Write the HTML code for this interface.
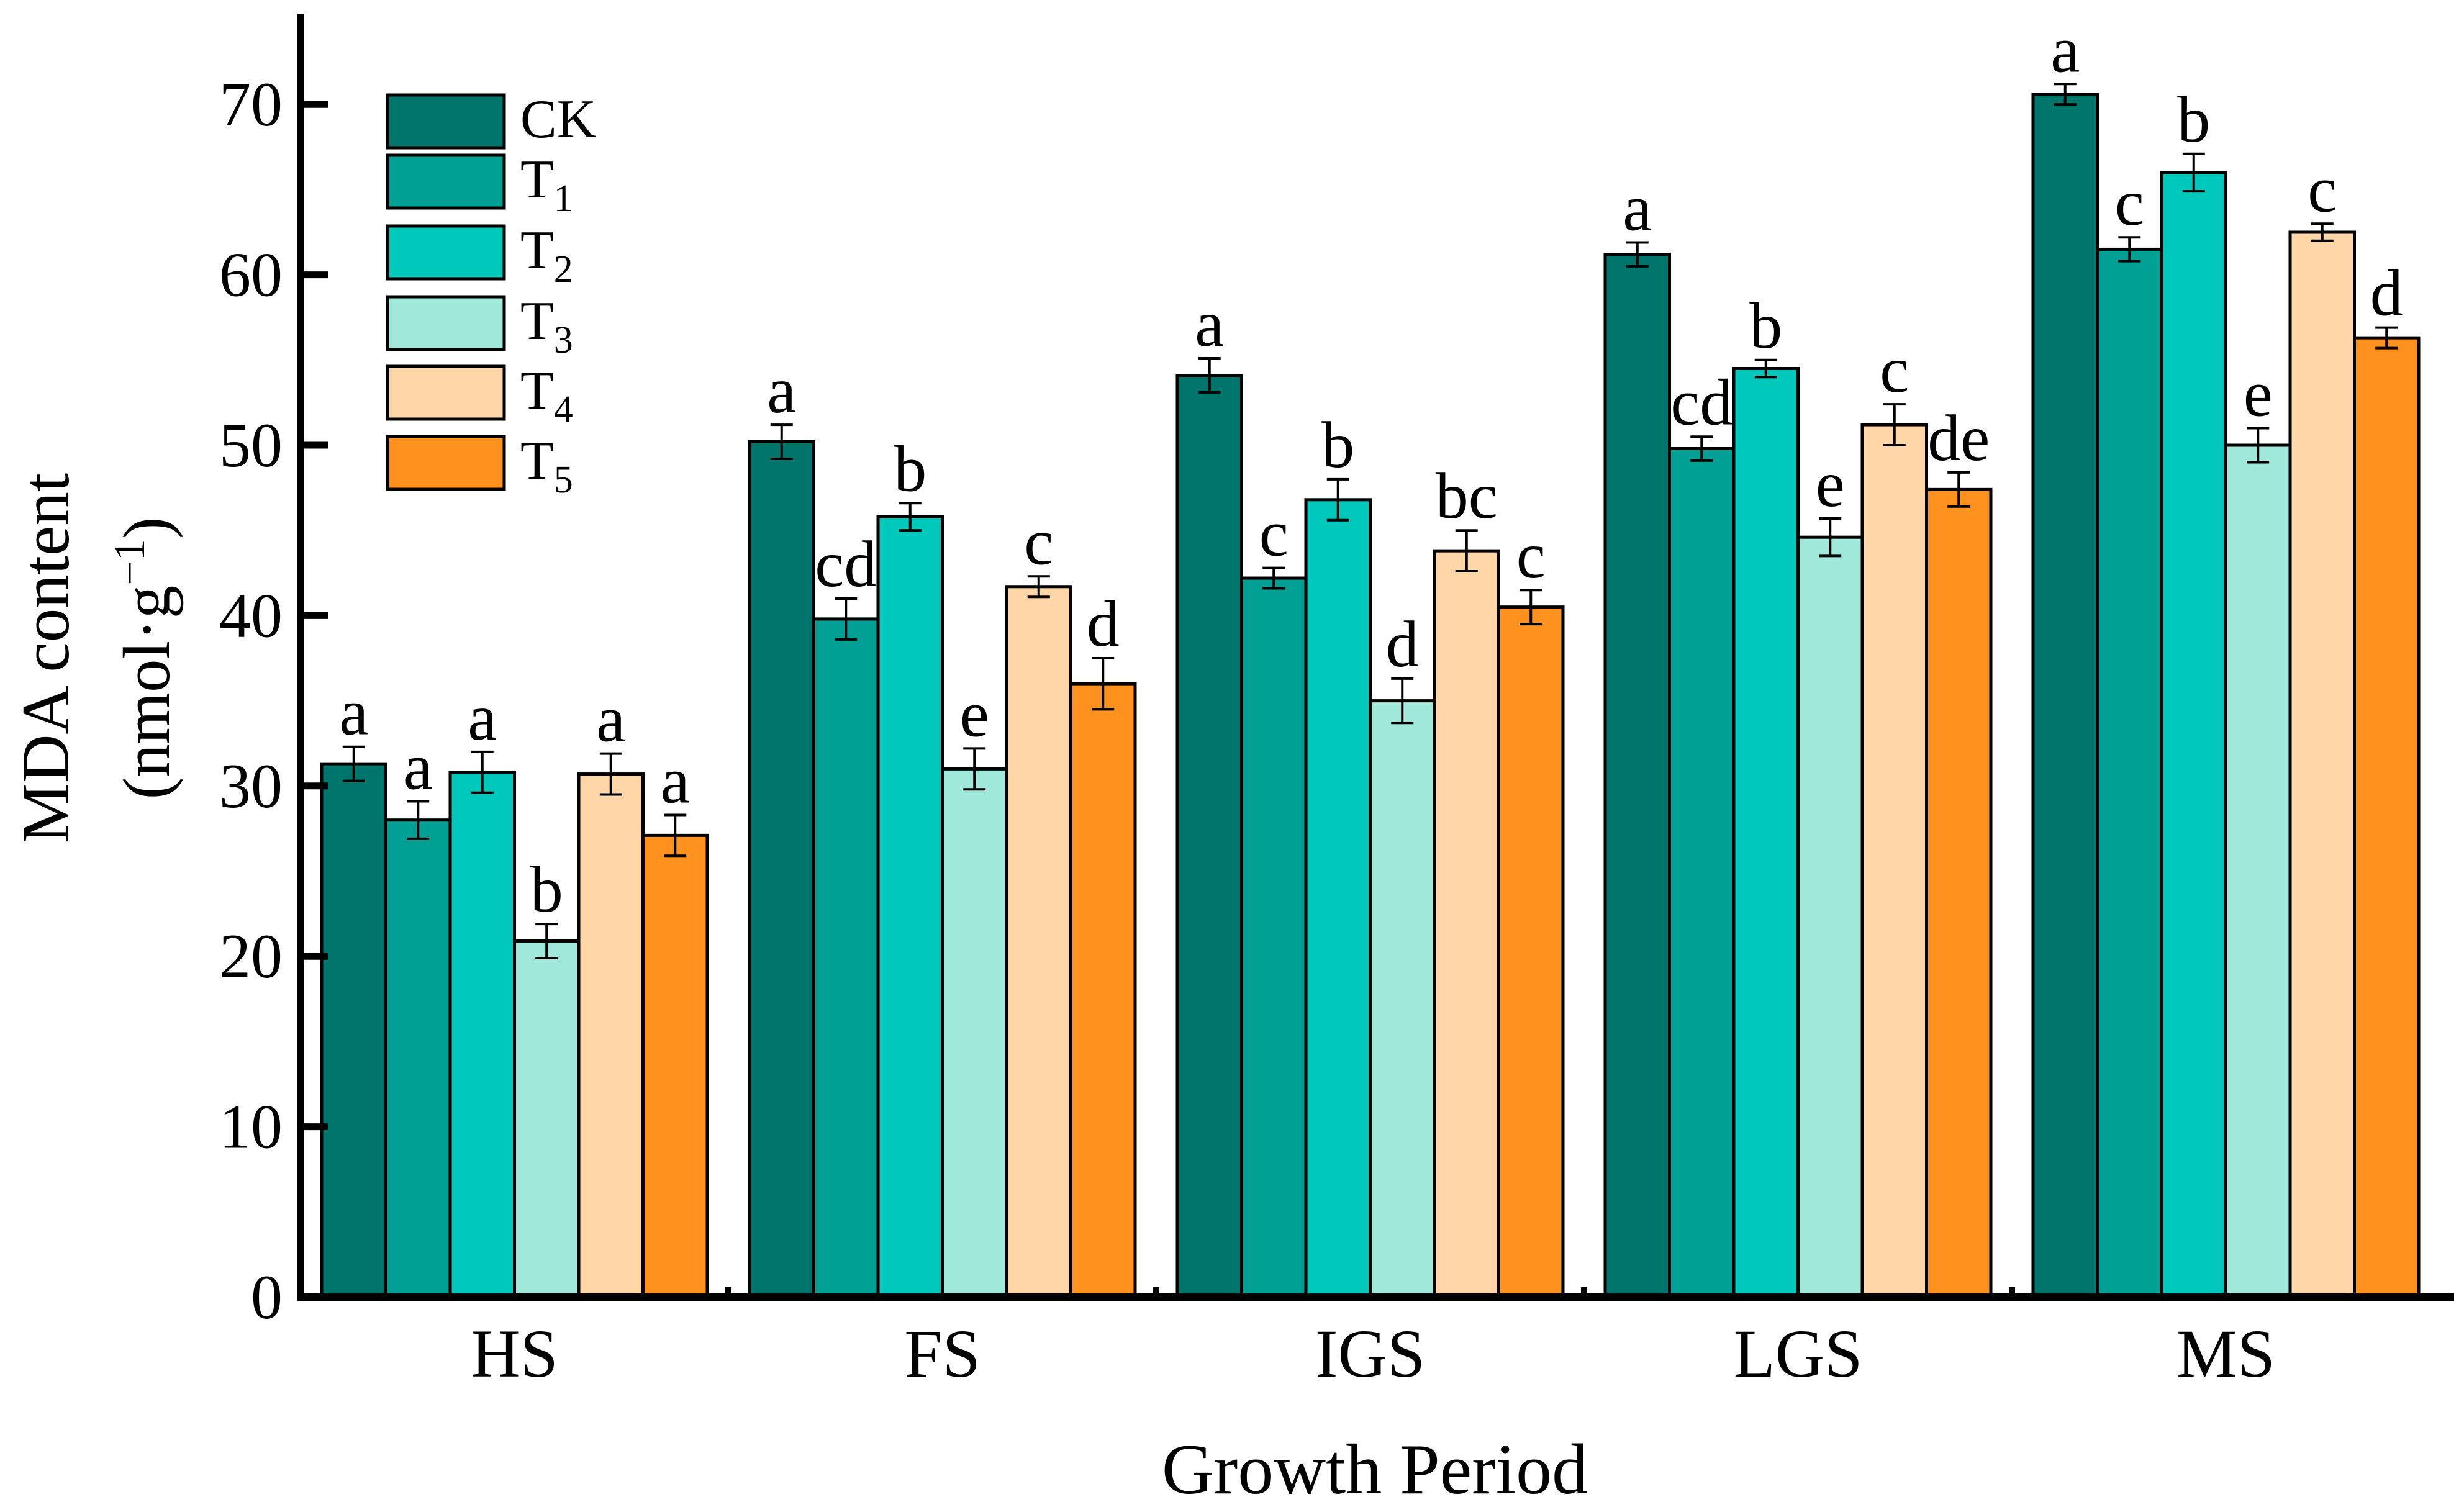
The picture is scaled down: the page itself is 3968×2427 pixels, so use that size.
<!DOCTYPE html>
<html><head><meta charset="utf-8"><style>
html,body{margin:0;padding:0;background:#fff;}
svg{display:block;font-family:"Liberation Serif",serif;}
</style></head><body>
<svg id="chart" width="3968" height="2427" viewBox="0 0 3968 2427" xmlns="http://www.w3.org/2000/svg">
<rect x="0" y="0" width="3968" height="2427" fill="#fff"/>
<g id="bars"></g>
<g id="axes"></g>
<text transform="translate(110,1060) rotate(-90)" text-anchor="middle" font-size="109">MDA content</text>
<text transform="translate(272,1060) rotate(-90)" text-anchor="middle" font-size="107">(nmol·g<tspan dy="-40" font-size="70">−1</tspan><tspan dy="40">)</tspan></text>
<text x="2214" y="2405" text-anchor="middle" font-size="116">Growth Period</text>
<g id="legend"></g>
</svg>
<script>
const categories = ["HS","FS","IGS","LGS","MS"];
const seriesNames = ["CK","T1","T2","T3","T4","T5"];
const valCK = [31.3, 50.2, 54.1, 61.2, 70.6];
const valT1 = [28.0, 39.8, 42.2, 49.8, 61.5];
const valT2 = [30.8, 45.8, 46.8, 54.5, 66.0];
const valT3 = [20.9, 31.0, 35.0, 44.6, 50.0];
const valT4 = [30.7, 41.7, 43.8, 51.2, 62.5];
const valT5 = [27.1, 36.0, 40.5, 47.4, 56.3];
const errCK = [1.0, 1.0, 1.0, 0.7, 0.6];
const errT1 = [1.1, 1.2, 0.6, 0.7, 0.7];
const errT2 = [1.2, 0.8, 1.2, 0.5, 1.1];
const errT3 = [1.0, 1.2, 1.3, 1.1, 1.0];
const errT4 = [1.2, 0.6, 1.2, 1.2, 0.5];
const errT5 = [1.2, 1.5, 1.0, 1.0, 0.6];
const letCK = ["a","a","a","a","a"];
const letT1 = ["a","cd","c","cd","c"];
const letT2 = ["a","b","b","b","b"];
const letT3 = ["b","e","d","e","e"];
const letT4 = ["a","c","bc","c","c"];
const letT5 = ["a","d","c","de","d"];
const yTicks = [0,10,20,30,40,50,60,70];

const values=[valCK,valT1,valT2,valT3,valT4,valT5];
const errs=[errCK,errT1,errT2,errT3,errT4,errT5];
const lets=[letCK,letT1,letT2,letT3,letT4,letT5];
const colors=["#00756b","#00a094","#00c8bb","#a0e9da","#ffd6a8","#ff921f"];
const NS="http://www.w3.org/2000/svg";
const X0=484, Y0=2089, PX=27.44, G0=518, GSTEP=689, BW=103.5;
function y(v){return Y0-v*PX;}
function gx(g,s){return G0+g*GSTEP+s*BW;}
function mk(tag,attrs,parent){const e=document.createElementNS(NS,tag);for(const k in attrs)e.setAttribute(k,attrs[k]);parent.appendChild(e);return e;}
const bars=document.getElementById('bars'), axes=document.getElementById('axes'), legend=document.getElementById('legend');
for(let g=0;g<categories.length;g++){
  for(let s=0;s<seriesNames.length;s++){
    const v=values[s][g], e=errs[s][g], x=gx(g,s);
    const r=mk('rect',{x:x,y:y(v),width:BW,height:Y0-y(v),fill:colors[s],stroke:'#000','stroke-width':5},bars);
    
    
    const cx=x+BW/2;
    const eb=mk('path',{d:`M${cx},${y(v+e)}V${y(v-e)}M${cx-18},${y(v+e)}H${cx+18}M${cx-18},${y(v-e)}H${cx+18}`,stroke:'#000','stroke-width':4,fill:'none'},bars);
    
    
    const t=mk('text',{x:cx,y:y(v+e)-20,'text-anchor':'middle','font-size':106},bars);
    t.textContent=lets[s][g];
    
    
  }
  const lab=mk('text',{x:gx(g,3),y:2217,'text-anchor':'middle','font-size':110},axes);
  lab.textContent=categories[g];
  
  
  if(g>0){
    const tx=gx(g,0)-(GSTEP-6*BW)/2;
    const tk=mk('line',{x1:tx,y1:Y0,x2:tx,y2:Y0-16,stroke:'#000','stroke-width':10},axes);
    
    
  }
}
const ya=mk('line',{x1:X0,y1:22,x2:X0,y2:Y0+6,stroke:'#000','stroke-width':11},axes);


const xa=mk('line',{x1:X0-5,y1:Y0,x2:3952,y2:Y0,stroke:'#000','stroke-width':12},axes);


yTicks.forEach(v=>{
  if(v>0){
    const tk=mk('line',{x1:X0,y1:y(v),x2:X0+44,y2:y(v),stroke:'#000','stroke-width':11},axes);
    
    
  }
  const t=mk('text',{x:455,y:y(v)+34,'text-anchor':'end','font-size':102},axes);
  t.textContent=v;
  
  
});
const legY=[153,250,364,478,590,703];
seriesNames.forEach((n,i)=>{
  const r=mk('rect',{x:624,y:legY[i],width:188,height:85,fill:colors[i],stroke:'#000','stroke-width':5},legend);
  
  
  const t=mk('text',{x:838,y:legY[i]+68,'font-size':88},legend);
  if(i===0){t.textContent='CK';}
  else{t.textContent='T';const sb=mk('tspan',{dy:22,'font-size':62},t);sb.textContent=String(i);}
  
  
});
</script>
</body></html>
